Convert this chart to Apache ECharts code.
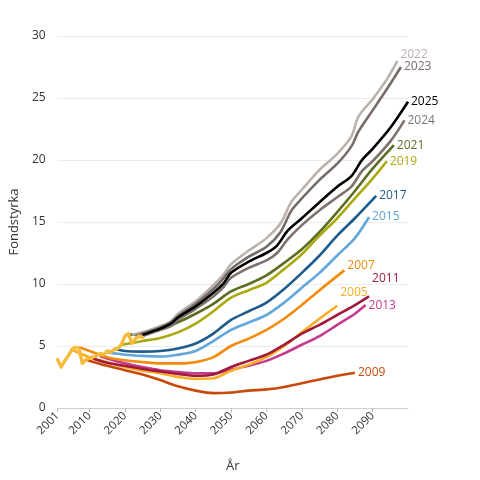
<!DOCTYPE html>
<html><head><meta charset="utf-8">
<script src="https://cdn.jsdelivr.net/npm/echarts@6/dist/echarts.min.js"></script>
<style>html,body{margin:0;padding:0;background:#fff}#c{width:480px;height:480px}</style>
</head><body><div id="c"></div>
<script>
const xTickYears = [2001,2010,2020,2030,2040,2050,2060,2070,2080,2090];
const yTicks = [0,5,10,15,20,25,30];

const utfall = [[2001,3.9],[2002,3.3],[2003,3.8],[2004,4.2],[2005,4.7],[2006,4.9],[2007,4.8],[2008,3.6],[2009,3.9],[2010,4.0],[2011,4.1],[2012,4.2],[2013,4.4],[2014,4.3],[2015,4.6],[2016,4.5],[2017,4.7],[2018,4.8],[2019,5.1],[2020,5.8],[2021,6.0],[2022,5.2],[2023,5.6],[2024,5.8],[2025,5.7]];

const p2005 = [[2005,4.7],[2010,4.1],[2015,3.7],[2020,3.3],[2025,3.0],[2030,2.8],[2035,2.5],[2040,2.35],[2045,2.4],[2050,3.0],[2055,3.5],[2060,4.1],[2065,5.0],[2070,6.1],[2075,7.2],[2080,8.25]];
const p2007 = [[2007,4.9],[2010,4.6],[2015,4.1],[2020,3.85],[2025,3.7],[2030,3.6],[2035,3.6],[2040,3.7],[2045,4.1],[2050,5.0],[2055,5.6],[2060,6.3],[2065,7.2],[2070,8.3],[2075,9.5],[2082,11.1]];
const p2009 = [[2009,3.9],[2015,3.4],[2020,3.05],[2025,2.7],[2030,2.25],[2035,1.75],[2040,1.4],[2045,1.2],[2050,1.25],[2055,1.4],[2060,1.5],[2065,1.7],[2070,2.0],[2075,2.3],[2080,2.6],[2085,2.85]];
const p2011 = [[2011,4.0],[2015,3.65],[2020,3.4],[2025,3.15],[2030,2.95],[2035,2.75],[2040,2.6],[2045,2.7],[2050,3.3],[2055,3.8],[2060,4.3],[2065,5.1],[2070,6.0],[2075,6.7],[2080,7.5],[2085,8.3],[2089,9.0]];
const p2013 = [[2013,4.2],[2015,4.0],[2020,3.6],[2025,3.3],[2030,3.05],[2035,2.9],[2040,2.8],[2045,2.8],[2050,3.1],[2055,3.4],[2060,3.8],[2065,4.4],[2070,5.1],[2075,5.8],[2080,6.7],[2085,7.6],[2088,8.3]];
const p2015 = [[2015,4.5],[2020,4.3],[2025,4.2],[2030,4.15],[2035,4.3],[2040,4.6],[2045,5.4],[2050,6.3],[2055,6.9],[2060,7.5],[2065,8.5],[2070,9.7],[2075,10.9],[2080,12.3],[2085,13.7],[2089,15.4]];
const p2017 = [[2017,4.8],[2020,4.6],[2025,4.55],[2030,4.6],[2035,4.8],[2040,5.2],[2045,6.0],[2050,7.1],[2055,7.8],[2060,8.5],[2065,9.6],[2070,10.9],[2075,12.3],[2080,13.9],[2085,15.3],[2091,17.1]];
const p2019 = [[2019,5.1],[2022,5.25],[2025,5.4],[2030,5.65],[2035,6.1],[2040,6.8],[2045,7.8],[2050,8.9],[2055,9.5],[2060,10.1],[2065,11.2],[2070,12.4],[2075,13.9],[2080,15.3],[2085,16.9],[2090,18.5],[2094,19.9]];
const p2021 = [[2021,5.9],[2025,6.0],[2030,6.3],[2035,6.9],[2040,7.6],[2045,8.4],[2050,9.4],[2055,10.0],[2060,10.7],[2065,11.7],[2070,12.8],[2075,14.2],[2080,15.8],[2085,17.5],[2090,19.3],[2096,21.2]];
const p2022 = [[2022,5.9],[2025,6.1],[2030,6.6],[2033,7.0],[2035,7.6],[2040,8.6],[2045,9.9],[2048,10.8],[2050,11.6],[2055,12.7],[2060,13.7],[2064,14.9],[2067,16.6],[2070,17.6],[2075,19.2],[2080,20.5],[2084,21.9],[2086,23.5],[2090,24.9],[2094,26.5],[2097,28.0]];
const p2023 = [[2023,5.8],[2025,6.0],[2030,6.5],[2033,6.9],[2035,7.4],[2040,8.4],[2045,9.6],[2048,10.5],[2050,11.2],[2055,12.2],[2060,13.0],[2064,14.2],[2067,15.9],[2070,16.9],[2075,18.4],[2080,19.7],[2084,21.1],[2086,22.3],[2090,24.0],[2094,25.7],[2098,27.5]];
const p2024 = [[2024,5.7],[2025,5.8],[2030,6.3],[2033,6.6],[2035,7.1],[2040,8.0],[2045,9.0],[2048,9.8],[2050,10.5],[2055,11.3],[2060,11.9],[2063,12.5],[2066,13.6],[2070,14.75],[2075,15.95],[2080,17.0],[2084,17.85],[2087,19.1],[2090,19.9],[2095,21.5],[2099,23.2]];
const p2025 = [[2025,5.9],[2030,6.4],[2033,6.8],[2035,7.3],[2040,8.2],[2045,9.3],[2048,10.1],[2050,10.9],[2055,11.8],[2060,12.5],[2063,13.1],[2066,14.3],[2070,15.3],[2075,16.6],[2080,17.85],[2084,18.7],[2087,20.0],[2090,20.9],[2095,22.6],[2100,24.7]];

const FONT = '"Open Sans", "DejaVu Sans", sans-serif';

function proj(name, data, color, offset) {
  return {
    name: name, type: 'line', data: data, smooth: 0.3, showSymbol: false,
    lineStyle: { color: color, width: 2.6 },
    itemStyle: { color: color },
    endLabel: { show: true, formatter: '{a}', color: color, fontSize: 12, fontFamily: FONT,
      distance: 3, offset: offset || [0, 0] },
    emphasis: { disabled: true }, animation: false
  };
}

const series = [
  proj('2009', p2009, '#c9490a'),
  proj('2013', p2013, '#c43a8f'),
  proj('2005', p2005, '#fbae24', [0, -13]),
  proj('2011', p2011, '#a01a3c', [0, -18]),
  proj('2007', p2007, '#f38b0c', [0, -5]),
  proj('2015', p2015, '#62a6da'),
  proj('2017', p2017, '#1e5d8b'),
  proj('2019', p2019, '#a9a90c'),
  proj('2021', p2021, '#5c6e22'),
  proj('2024', p2024, '#7d726e'),
  proj('2022', p2022, '#bab3ad', [0, -6]),
  proj('2023', p2023, '#776c68'),
  proj('2025', p2025, '#000000'),
  {
    name: 'Utfall', type: 'line', data: utfall, showSymbol: false,
    lineStyle: { color: '#f7bb3c', width: 3.4, join: 'round', cap: 'round' },
    itemStyle: { color: '#f7bb3c' }, emphasis: { disabled: true }, animation: false
  }
];

const chart = echarts.init(document.getElementById('c'));
chart.setOption({
  animation: false,
  grid: { left: 44, right: 72, top: 36, bottom: 72 },
  xAxis: {
    type: 'value', min: 2001, max: 2100,
    name: 'År', nameLocation: 'middle', nameGap: 52,
    nameTextStyle: { color: '#333', fontSize: 13, fontFamily: FONT },
    axisLine: { show: true, lineStyle: { color: '#d0d0d0' } },
    axisTick: { show: true, customValues: xTickYears, length: 4, lineStyle: { color: '#bbb' } },
    axisLabel: { customValues: xTickYears, rotate: 45, color: '#333', fontSize: 11.5, fontFamily: FONT,
      formatter: v => String(v), margin: 6 },
    splitLine: { show: false }
  },
  yAxis: {
    type: 'value', min: 0, max: 30, interval: 5,
    name: 'Fondstyrka', nameLocation: 'middle', nameGap: 30,
    nameTextStyle: { color: '#333', fontSize: 13, fontFamily: FONT },
    axisLine: { show: false }, axisTick: { show: false },
    axisLabel: { color: '#333', fontSize: 12, fontFamily: FONT, margin: 12,
      formatter: v => yTicks.includes(v) ? String(v) : '' },
    splitLine: { lineStyle: { color: '#ececec', width: 1 } }
  },
  series: series
});
</script>
</body></html>
